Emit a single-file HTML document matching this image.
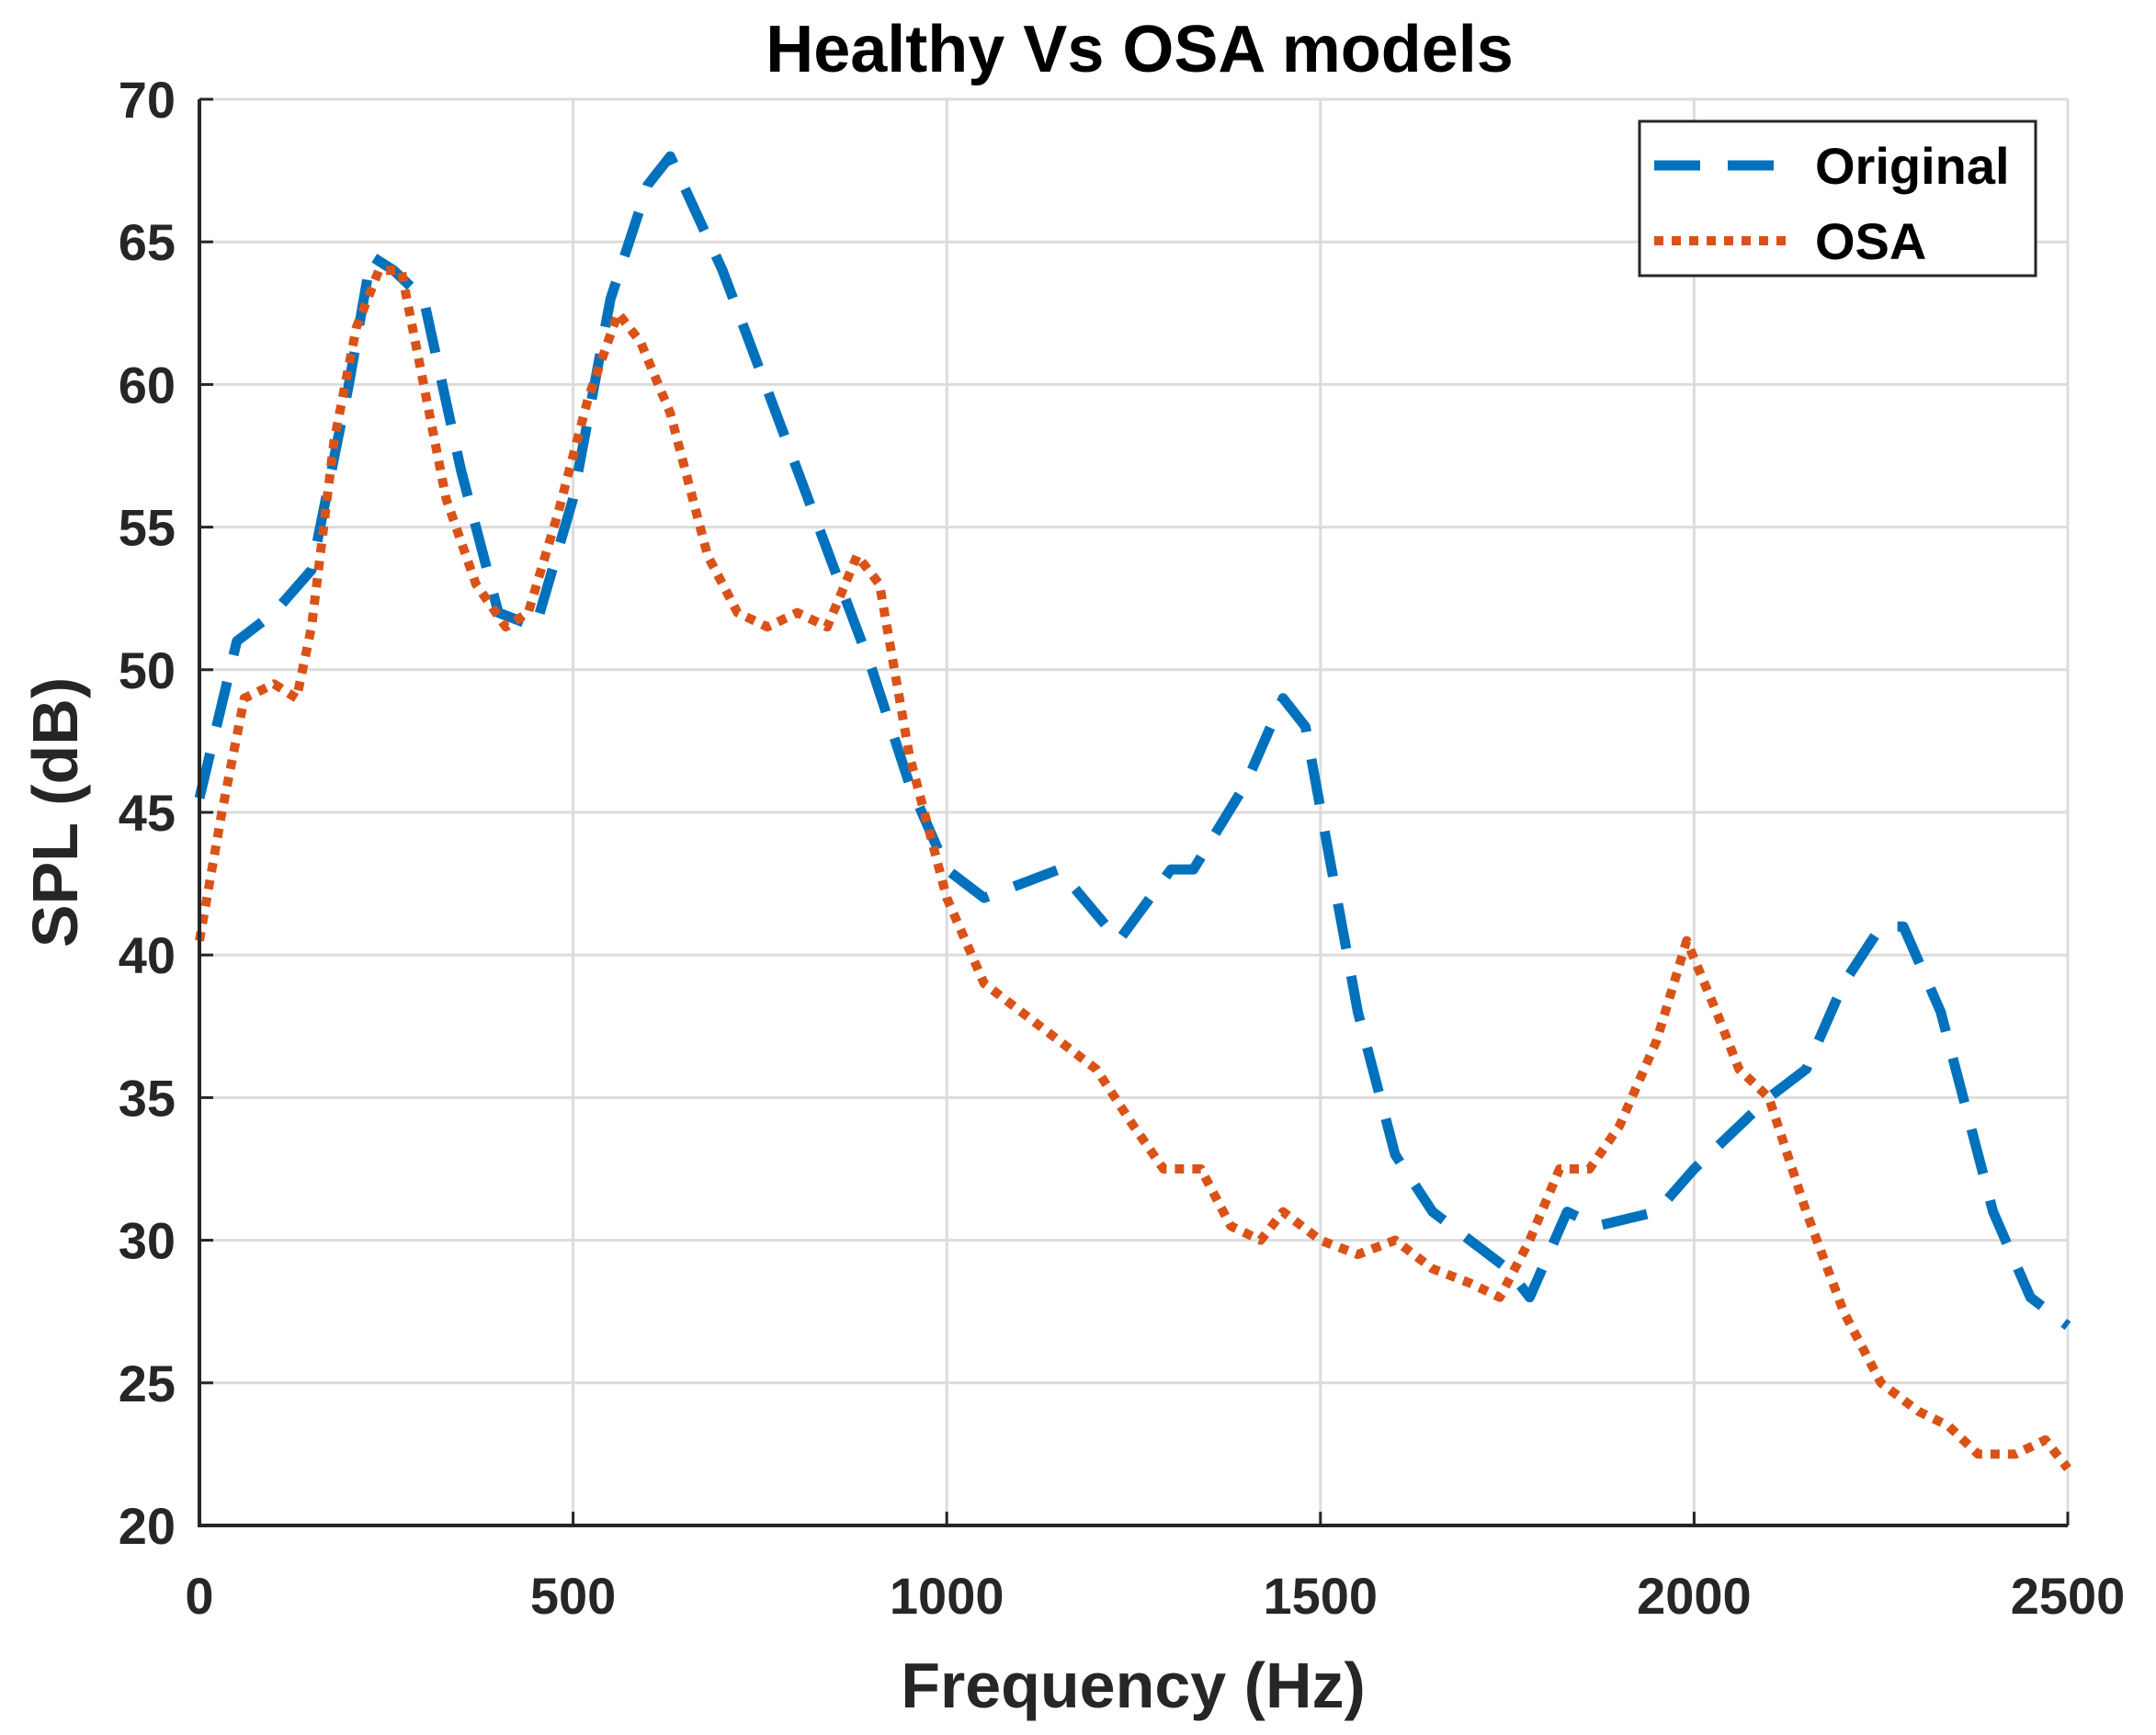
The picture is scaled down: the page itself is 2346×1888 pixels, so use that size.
<!DOCTYPE html>
<html><head><meta charset="utf-8"><style>
body{margin:0;background:#fff;}
svg{display:block;font-family:"Liberation Sans",sans-serif;}
</style></head><body>
<svg id="chart" width="2346" height="1888" viewBox="0 0 2346 1888">
<rect width="2346" height="1888" fill="#fff"/>
<text x="1240" y="78" text-anchor="middle" font-size="72" font-weight="bold" fill="#000">Healthy Vs OSA models</text>
<g id="grid"></g><g id="series"></g><g id="axes"></g>
<text x="1233" y="1858" text-anchor="middle" font-size="70" font-weight="bold" fill="#262626">Frequency (Hz)</text>
<text transform="translate(84,884) rotate(-90)" text-anchor="middle" font-size="70" font-weight="bold" fill="#262626">SPL (dB)</text>
<g>
<rect x="1784" y="132" width="431" height="168" fill="#fff" stroke="#262626" stroke-width="3"/>
<line x1="1800" y1="180" x2="1952" y2="180" stroke="#0072BD" stroke-width="11" stroke-dasharray="50 30"/>
<text x="1975" y="200" font-size="56" font-weight="bold" fill="#000">Original</text>
<line x1="1800" y1="262" x2="1952" y2="262" stroke="#D95319" stroke-width="10" stroke-dasharray="10 9"/>
<text x="1975" y="282" font-size="56" font-weight="bold" fill="#000">OSA</text>
</g>
</svg>
<script>
const xTicks=[0,500,1000,1500,2000,2500];
const yTicks=[20,25,30,35,40,45,50,55,60,65,70];
const origFreq=[0,50,100,150,200,230,260,300,350,400,450,500,550,600,630,700,800,850,900,950,1000,1050,1150,1230,1300,1330,1400,1450,1480,1550,1600,1650,1700,1750,1780,1830,1870,1950,2000,2100,2150,2200,2250,2280,2330,2400,2450,2500];
const origSPL=[45.5,51,52,53.5,60,64.5,64,63,57,52,51.5,56,63,67,68,64,57,53.5,50,46,43,42,43,40.5,43,43,46,49,48,38,33,31,30,29,28,31,30.5,31,32.5,35,36,39,41,41,38,31,28,27];
const osaFreq=[0,30,60,100,130,150,180,210,240,270,300,330,370,410,440,480,520,560,590,630,680,720,760,800,840,880,910,950,1000,1050,1100,1150,1200,1250,1290,1340,1380,1420,1450,1500,1550,1600,1650,1700,1740,1780,1820,1860,1900,1950,1990,2030,2060,2100,2150,2200,2250,2300,2340,2380,2430,2470,2500];
const osaSPL=[40.5,45,49,49.5,49,51.5,58,62,64,64,60,56,53,51.5,52,55.5,59.5,62.5,61.5,59,54,52,51.5,52,51.5,54,53,47,42,39,38,37,36,34,32.5,32.5,30.5,30,31,30,29.5,30,29,28.5,28,30,32.5,32.5,34,37,40.5,38,36,35,31,27.5,25,24,23.5,22.5,22.5,23,22];
const L=217,R=2250,T=108,B=1660;
const sx=v=>L+(v-0)/(2500)*(R-L);
const sy=v=>B-(v-20)/50*(B-T);
const NS="http://www.w3.org/2000/svg";
function mk(p,tag,attrs){const e=document.createElementNS(NS,tag);for(const k in attrs)e.setAttribute(k,attrs[k]);p.appendChild(e);return e;}
const grid=document.getElementById('grid'),axes=document.getElementById('axes'),series=document.getElementById('series');
xTicks.forEach(t=>{
 const g=mk(grid,'line',{x1:sx(t),x2:sx(t),y1:T,y2:B,stroke:'#dcdcdc','stroke-width':3});
 
 
 const tk=mk(axes,'line',{x1:sx(t),x2:sx(t),y1:B,y2:B-15,stroke:'#262626','stroke-width':3});
 
 
 const tx=mk(axes,'text',{x:sx(t),y:B+96,'text-anchor':'middle','font-size':56,'font-weight':'bold',fill:'#262626'});
 tx.textContent=t;
 
 
});
yTicks.forEach(t=>{
 const g=mk(grid,'line',{x1:L,x2:R,y1:sy(t),y2:sy(t),stroke:'#dcdcdc','stroke-width':3});
 
 
 const tk=mk(axes,'line',{x1:L,x2:L+15,y1:sy(t),y2:sy(t),stroke:'#262626','stroke-width':3});
 
 
 const tx=mk(axes,'text',{x:L-26,y:sy(t)+20,'text-anchor':'end','font-size':56,'font-weight':'bold',fill:'#262626'});
 tx.textContent=t;
 
 
});
const ax=mk(axes,'path',{d:`M${L},${T} L${L},${B} L${R},${B}`,fill:'none',stroke:'#262626','stroke-width':4});


function line(xs,ys){return xs.map((x,i)=>(i?'L':'M')+sx(x).toFixed(1)+','+sy(ys[i]).toFixed(1)).join(' ');}
const p1=mk(series,'path',{d:line(origFreq,origSPL),fill:'none',stroke:'#0072BD','stroke-width':11,'stroke-dasharray':'50 30','stroke-linejoin':'round'});


const p2=mk(series,'path',{d:line(osaFreq,osaSPL),fill:'none',stroke:'#D95319','stroke-width':10,'stroke-dasharray':'10 9','stroke-linejoin':'round'});


</script>
</body></html>
